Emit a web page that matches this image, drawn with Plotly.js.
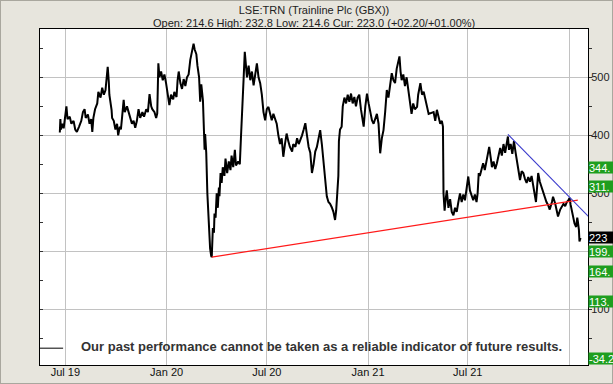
<!DOCTYPE html>
<html>
<head>
<meta charset="utf-8">
<script src="https://cdn.plot.ly/plotly-3.0.1.min.js"></script>
<style>html,body{margin:0;padding:0;background:#e7e5dd;}#chart{width:613px;height:384px;}</style>
</head>
<body>
<div id="chart"></div>
<script>
// ---- data ----
const titleLine1 = 'LSE:TRN (Trainline Plc (GBX))';
const titleLine2 = 'Open: 214.6 High: 232.8 Low: 214.6 Cur: 223.0 (+02.20/+01.00%)';
const disclaimer = 'Our past performance cannot be taken as a reliable indicator of future results.';

const priceDates = [
'2019-06-21','2019-06-22','2019-06-23','2019-06-26','2019-06-28','2019-07-01','2019-07-03','2019-07-05','2019-07-09','2019-07-12',
'2019-07-16','2019-07-19','2019-07-22','2019-07-26','2019-07-30','2019-08-02','2019-08-05','2019-08-07','2019-08-11','2019-08-14',
'2019-08-17','2019-08-19','2019-08-21','2019-08-24','2019-08-28','2019-08-30','2019-09-03','2019-09-06','2019-09-09','2019-09-12',
'2019-09-13','2019-09-16','2019-09-18','2019-09-19','2019-09-23','2019-09-24','2019-09-27','2019-09-30','2019-10-03','2019-10-05',
'2019-10-08','2019-10-10','2019-10-12','2019-10-15','2019-10-17','2019-10-21','2019-10-24','2019-10-27','2019-10-30','2019-11-02',
'2019-11-05','2019-11-08','2019-11-11','2019-11-14','2019-11-18','2019-11-21','2019-11-25','2019-11-28','2019-12-01','2019-12-04',
'2019-12-06','2019-12-10','2019-12-13','2019-12-15','2019-12-16','2019-12-17','2019-12-19','2019-12-22','2019-12-25','2019-12-28',
'2019-12-31','2020-01-03','2020-01-06','2020-01-09','2020-01-13','2020-01-15','2020-01-19','2020-01-21','2020-01-23','2020-01-26',
'2020-01-29','2020-02-01','2020-02-04','2020-02-07','2020-02-10','2020-02-13','2020-02-16','2020-02-19','2020-02-21','2020-02-24',
'2020-02-26','2020-02-29','2020-03-02','2020-03-04','2020-03-07','2020-03-09','2020-03-10','2020-03-11','2020-03-13','2020-03-15',
'2020-03-17','2020-03-18','2020-03-20','2020-03-22','2020-03-23','2020-03-25','2020-03-27','2020-03-28','2020-03-30','2020-04-01',
'2020-04-03','2020-04-05','2020-04-06','2020-04-08','2020-04-10','2020-04-12','2020-04-15','2020-04-17','2020-04-20','2020-04-23',
'2020-04-26','2020-04-28','2020-05-01','2020-05-04','2020-05-06','2020-05-10','2020-05-13','2020-05-15','2020-05-17','2020-05-20',
'2020-05-22','2020-05-24','2020-05-26','2020-05-29','2020-06-01','2020-06-04','2020-06-07','2020-06-10','2020-06-13','2020-06-16',
'2020-06-19','2020-06-22','2020-06-25','2020-06-28','2020-07-01','2020-07-04','2020-07-07','2020-07-10','2020-07-13','2020-07-16',
'2020-07-19','2020-07-22','2020-07-25','2020-07-28','2020-07-31','2020-08-03','2020-08-06','2020-08-09','2020-08-12','2020-08-16',
'2020-08-18','2020-08-22','2020-08-25','2020-08-28','2020-08-31','2020-09-03','2020-09-06','2020-09-09','2020-09-12','2020-09-15',
'2020-09-18','2020-09-21','2020-09-24','2020-09-27','2020-09-30','2020-10-03','2020-10-06','2020-10-09','2020-10-12','2020-10-15',
'2020-10-18','2020-10-21','2020-10-24','2020-10-27','2020-10-30','2020-11-02','2020-11-04','2020-11-06','2020-11-08','2020-11-09',
'2020-11-11','2020-11-14','2020-11-16','2020-11-19','2020-11-22','2020-11-25','2020-11-28','2020-12-01','2020-12-04','2020-12-07',
'2020-12-10','2020-12-13','2020-12-16','2020-12-19','2020-12-22','2020-12-24','2020-12-27','2020-12-30','2021-01-02','2021-01-05',
'2021-01-08','2021-01-11','2021-01-14','2021-01-17','2021-01-20','2021-01-23','2021-01-26','2021-01-29','2021-02-01','2021-02-04',
'2021-02-07','2021-02-10','2021-02-13','2021-02-16','2021-02-19','2021-02-22','2021-02-25','2021-02-27','2021-03-01','2021-03-03',
'2021-03-06','2021-03-09','2021-03-12','2021-03-15','2021-03-18','2021-03-21','2021-03-24','2021-03-27','2021-03-31','2021-04-02',
'2021-04-06','2021-04-09','2021-04-12','2021-04-15','2021-04-18','2021-04-21','2021-04-30','2021-05-03','2021-05-06','2021-05-09',
'2021-05-12','2021-05-15','2021-05-17','2021-05-18','2021-05-20','2021-05-22','2021-05-24','2021-05-27','2021-05-30','2021-06-02',
'2021-06-05','2021-06-08','2021-06-11','2021-06-14','2021-06-17','2021-06-20','2021-06-23','2021-06-26','2021-06-29','2021-07-02',
'2021-07-05','2021-07-08','2021-07-11','2021-07-14','2021-07-17','2021-07-19','2021-07-21','2021-07-23','2021-07-27','2021-07-29',
'2021-08-01','2021-08-05','2021-08-07','2021-08-09','2021-08-12','2021-08-14','2021-08-17','2021-08-20','2021-08-23','2021-08-26',
'2021-08-29','2021-09-01','2021-09-04','2021-09-07','2021-09-10','2021-09-12','2021-09-14','2021-09-17','2021-09-20','2021-09-23',
'2021-09-26','2021-09-29','2021-10-02','2021-10-04','2021-10-07','2021-10-10','2021-10-13','2021-10-16','2021-10-19','2021-10-22',
'2021-10-25','2021-10-28','2021-10-31','2021-11-02','2021-11-04','2021-11-06','2021-11-09','2021-11-12','2021-11-15','2021-11-18',
'2021-11-21','2021-11-24','2021-11-27','2021-12-01','2021-12-03','2021-12-07','2021-12-10','2021-12-12','2021-12-16','2021-12-19',
'2021-12-22','2021-12-25','2021-12-28','2021-12-31','2022-01-02','2022-01-04','2022-01-06','2022-01-09','2022-01-11','2022-01-14',
'2022-01-16','2022-01-17','2022-01-19','2022-01-20','2022-01-22'
];
const priceValues = [
405,428,410,420,412,430,450,428,432,420,
425,410,406,415,425,440,445,430,436,420,
428,406,430,445,455,475,465,482,470,478,
490,518,492,470,444,430,425,410,420,400,
415,410,430,461,440,450,440,428,420,425,
413,425,445,430,440,432,445,440,471,450,
445,440,430,438,495,524,500,510,495,505,
490,470,452,470,462,475,466,495,510,490,
480,497,485,500,505,530,545,558,548,540,
520,500,458,488,460,400,375,402,370,300,
250,230,205,192,190,240,232,265,258,300,
275,310,295,335,318,345,330,360,335,355,
340,365,345,375,348,355,350,395,449,500,
544,515,500,520,495,510,486,505,524,500,
490,470,440,426,445,449,435,426,437,428,
420,400,385,395,363,385,403,390,380,372,
385,380,395,385,392,400,410,421,400,380,
370,335,350,372,380,395,409,385,352,330,
295,285,282,276,268,254,270,300,330,390,
410,415,450,465,455,470,458,472,455,466,
450,465,470,445,430,415,450,472,455,440,
426,420,430,437,420,369,395,409,440,478,
465,490,507,495,490,515,525,536,510,495,
505,485,500,480,460,437,455,445,449,470,
490,470,475,461,450,437,440,425,444,430,
420,425,415,300,270,290,305,275,290,268,
262,275,268,285,300,285,298,288,310,329,
305,295,288,298,285,300,335,330,346,352,
340,362,372,380,360,345,355,342,352,365,
378,365,385,370,385,398,375,385,368,390,
370,352,340,323,338,335,325,318,328,320,
330,315,300,285,310,335,320,311,300,295,
285,280,272,285,294,282,270,260,272,278,
282,278,285,288,292,280,271,254,248,242,
258,252,237,217,223
];

// support trend line (red) and resistance trend line (blue)
const supportDates = ['2020-03-23', '2022-01-17'];
const supportValues = [190, 288.4];
const resistDates = ['2021-09-12', '2022-02-24'];
const resistValues = [401.7, 242];

// short marker at lower-left of the plot
const baseMarkDates = ['2019-05-16', '2019-06-27'];
const baseMarkValues = [33, 33];

// axis
const xRange = ['2019-05-16', '2022-02-04 12:00'];
const yRange = [4, 583.3];
const xTickDates = ['2019-07-01', '2020-01-01', '2020-07-01', '2021-01-01', '2021-07-01', '2022-01-01'];
const xTickLabels = ['Jul 19', 'Jan 20', 'Jul 20', 'Jan 21', 'Jul 21', ''];

// price level labels on the right edge
const levelValues = [344.5, 311.8, 223, 199.3, 164.5, 113.2, -34.2];
const levelTexts = ['344.', '311.', '223', '199.', '164.', '113.', '-34.2'];
const levelColors = ['#1f9e1f', '#1f9e1f', '#000000', '#1f9e1f', '#1f9e1f', '#1f9e1f', '#1f9e1f'];

// ---- build chart ----
const FONT = 'Liberation Sans, Arial, sans-serif';

const traces = [
  {x: priceDates, y: priceValues, type: 'scatter', mode: 'lines',
   line: {color: '#000000', width: 2}, hoverinfo: 'skip'},
  {x: supportDates, y: supportValues, type: 'scatter', mode: 'lines',
   line: {color: '#ff1a1a', width: 1.2}, hoverinfo: 'skip'},
  {x: resistDates, y: resistValues, type: 'scatter', mode: 'lines',
   line: {color: '#3a3acc', width: 1.2}, hoverinfo: 'skip'},
  {x: baseMarkDates, y: baseMarkValues, type: 'scatter', mode: 'lines',
   line: {color: '#000000', width: 1}, hoverinfo: 'skip'},
  {x: [], y: [], type: 'scatter', mode: 'lines', yaxis: 'y2', hoverinfo: 'skip', showlegend: false}
];

const annotations = levelValues.map((v, i) => {
  const clamped = v < yRange[0];
  return {
    xref: 'paper', x: 1, xanchor: 'left',
    yref: 'y', y: clamped ? yRange[0] : v, yanchor: clamped ? 'bottom' : 'middle',
    text: levelTexts[i], showarrow: false, align: 'left',
    width: 26, height: 11, borderpad: 0,
    bgcolor: levelColors[i],
    font: {family: FONT, size: 11, color: '#ffffff'}
  };
});
annotations.push({
  xref: 'paper', yref: 'paper', x: 0.5, y: (365 - 23) / 336, xanchor: 'center', yanchor: 'middle',
  text: titleLine2, showarrow: false, font: {family: FONT, size: 11, color: '#222222'}
});
annotations.push({
  xref: 'paper', yref: 'paper', x: 0.513, y: 0.0565, xanchor: 'center', yanchor: 'middle',
  text: '<b>' + disclaimer + '</b>', showarrow: false, font: {family: FONT, size: 13, color: '#333333'}
});

const layout = {
  width: 613, height: 384,
  margin: {l: 40, r: 25, t: 29, b: 19, pad: 0},
  paper_bgcolor: '#e7e5dd',
  plot_bgcolor: '#ffffff',
  showlegend: false,
  title: {text: titleLine1, font: {family: FONT, size: 11, color: '#222222'},
          xref: 'paper', x: 0.5, xanchor: 'center', yref: 'container', y: 1 - 10 / 384, yanchor: 'middle'},
  xaxis: {type: 'date', range: xRange, tickmode: 'array', tickvals: xTickDates, ticktext: xTickLabels,
          showgrid: true, gridcolor: '#c2c2c2', gridwidth: 1, showline: true, linecolor: '#000000', linewidth: 1,
          mirror: true, ticks: '', zeroline: false, ticklabelstandoff: -3,
          tickfont: {family: FONT, size: 11, color: '#111111'}},
  yaxis: {range: yRange, side: 'right', tickmode: 'linear', tick0: 0, dtick: 100,
          showgrid: true, gridcolor: '#c2c2c2', gridwidth: 1, showline: true, linecolor: '#000000', linewidth: 1,
          mirror: true, ticks: 'outside', ticklen: 3, tickcolor: '#333333', zeroline: false,
          ticklabelstandoff: -3,
          minor: {dtick: 50, ticks: 'outside', ticklen: 3, tickcolor: '#333333', showgrid: false},
          tickfont: {family: FONT, size: 11, color: '#222222'}},
  yaxis2: {range: yRange, overlaying: 'y', side: 'left', anchor: 'x', tickmode: 'linear', tick0: 0, dtick: 50,
           showgrid: false, zeroline: false, showline: false, showticklabels: false,
           ticks: 'inside', ticklen: 3, tickcolor: '#333333'},
  annotations: annotations,
  shapes: [
    {type: 'rect', xref: 'paper', yref: 'paper', x0: -40/548, x1: 1 + 25/548, y0: -19/336, y1: 1 + 29/336,
     line: {color: '#a9a79e', width: 2}, fillcolor: 'rgba(0,0,0,0)', layer: 'below'}
  ]
};

Plotly.newPlot('chart', traces, layout, {staticPlot: true, displayModeBar: false});
</script>
</body>
</html>
